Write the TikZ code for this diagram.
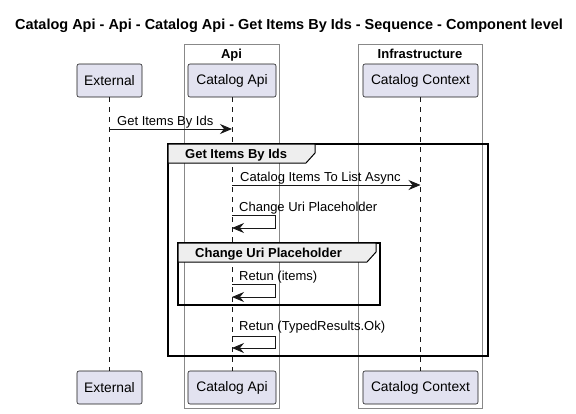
\documentclass[tikz,border=0pt]{standalone}
\usepackage{fontspec}
\setmainfont{Liberation Sans}
\usetikzlibrary{arrows.meta}
\definecolor{partfill}{HTML}{E2E2F0}
\definecolor{partline}{HTML}{181818}
\definecolor{boxline}{HTML}{888888}
\definecolor{grpfill}{HTML}{EEEEEE}
\tikzset{
  part/.style={draw=partline, fill=partfill, rounded corners=2pt, line width=0.6pt,
    minimum height=33pt, inner xsep=0pt, font=\fontsize{13.8}{16}\selectfont},
  lifeline/.style={draw=partline, dashed, dash pattern=on 5pt off 5pt, line width=0.5pt},
  msg/.style={draw=partline, line width=0.9pt, -{Stealth[length=12pt,width=10pt,inset=4pt]}},
  lbl/.style={anchor=base west, inner sep=0pt, font=\fontsize{13}{15}\selectfont},
  grplbl/.style={anchor=base west, inner sep=0pt, font=\bfseries\fontsize{13}{15}\selectfont},
  grpframe/.style={draw=black, line width=1.6pt},
  pbox/.style={draw=boxline, line width=0.7pt},
}
\begin{document}
\begin{tikzpicture}[x=1pt,y=-1pt]
\useasboundingbox (0,0) rectangle (576,413);
% title
\node[font=\bfseries\fontsize{14.5}{17}\selectfont, inner sep=0pt, anchor=base] (title) at (289,29) {Catalog Api - Api - Catalog Api - Get Items By Ids - Sequence - Component level};
% participant boxes
\draw[pbox] (184,44) rectangle (279,408);
\draw[pbox] (358,44) rectangle (482,408);
\node[grplbl, anchor=base] (apibox) at (231.5,58) {Api};
\node[grplbl, anchor=base] (infrabox) at (420,58) {Infrastructure};
% participants
\node[part, minimum width=65pt] (extT) at (109.5,80.5) {External};
\node[part, minimum width=88pt] (apiT) at (232,80.5) {Catalog Api};
\node[part, minimum width=115pt] (ctxT) at (420.5,80.5) {Catalog Context};
\node[part, minimum width=65pt] (extB) at (109.5,387.5) {External};
\node[part, minimum width=88pt] (apiB) at (232,387.5) {Catalog Api};
\node[part, minimum width=115pt] (ctxB) at (420.5,387.5) {Catalog Context};
% lifelines
\draw[lifeline] (extT.south) -- (extB.north);
\draw[lifeline] (apiT.south) -- (apiB.north);
\draw[lifeline] (ctxT.south) -- (ctxB.north);
% message 1
\coordinate (m1a) at (extT.south |- 0,129);
\coordinate (m1b) at (apiT.south |- 0,129);
\draw[msg] (m1a) -- (m1b);
\node[lbl] (m1l) at (117,125) {Get Items By Ids};
% outer group
\draw[grpframe] (168,144) rectangle (488,356);
\draw[fill=grpfill, draw=black, line width=1pt] (168,144) -- (315,144) -- (315,153) -- (306,163) -- (168,163) -- cycle;
\node[grplbl] (g1l) at (185,158.5) {Get Items By Ids};
% message 2
\coordinate (m2a) at (apiT.south |- 0,185);
\coordinate (m2b) at (ctxT.south |- 0,185);
\draw[msg] (m2a) -- (m2b);
\node[lbl] (m2l) at (240,181) {Catalog Items To List Async};
% self message 1
\coordinate (s1a) at (apiT.south |- 0,215);
\coordinate (s1b) at (apiT.south |- 0,228);
\draw[msg] (s1a) -- ++(43,0) |- (s1b);
\node[lbl] (s1l) at (239,211) {Change Uri Placeholder};
% inner group
\draw[grpframe] (178,243) rectangle (380,305);
\draw[fill=grpfill, draw=black, line width=1pt] (178,243) -- (376,243) -- (376,252) -- (367,262) -- (178,262) -- cycle;
\node[grplbl] (g2l) at (195,257.5) {Change Uri Placeholder};
% self message 2
\coordinate (s2a) at (apiT.south |- 0,284);
\coordinate (s2b) at (apiT.south |- 0,297);
\draw[msg] (s2a) -- ++(43,0) |- (s2b);
\node[lbl] (s2l) at (239,280) {Retun (items)};
% self message 3
\coordinate (s3a) at (apiT.south |- 0,336);
\coordinate (s3b) at (apiT.south |- 0,348);
\draw[msg] (s3a) -- ++(43,0) |- (s3b);
\node[lbl] (s3l) at (239,330) {Retun (TypedResults.Ok)};
\end{tikzpicture}
\end{document}
